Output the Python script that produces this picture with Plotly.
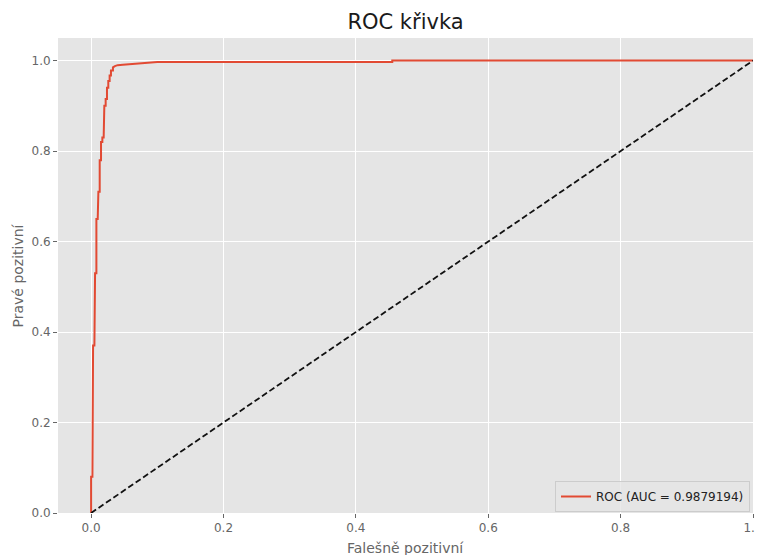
import plotly.graph_objects as go

# ROC curve points (false positive rate, true positive rate)
fpr = [0.0, 0.0, 0.002, 0.002, 0.003, 0.003, 0.005, 0.005, 0.006, 0.006, 0.008, 0.008,
       0.010, 0.010, 0.011, 0.011, 0.013, 0.013, 0.015, 0.015, 0.017, 0.017, 0.019, 0.019,
       0.020, 0.020, 0.022, 0.022, 0.024, 0.024, 0.026, 0.026, 0.028, 0.028, 0.030, 0.030,
       0.033, 0.033, 0.036, 0.040, 0.048, 0.056, 0.065, 0.077, 0.088, 0.100, 0.455, 0.455, 1.0]
tpr = [0.0, 0.08, 0.08, 0.32, 0.32, 0.37, 0.37, 0.44, 0.44, 0.53, 0.53, 0.65,
       0.65, 0.676, 0.676, 0.71, 0.71, 0.78, 0.78, 0.82, 0.82, 0.83, 0.83, 0.87,
       0.87, 0.90, 0.90, 0.915, 0.915, 0.94, 0.94, 0.955, 0.955, 0.967, 0.967, 0.978,
       0.978, 0.985, 0.988, 0.990, 0.991, 0.992, 0.994, 0.995, 0.996, 0.997, 0.997, 1.0, 1.0]
diag_x = [0.0, 1.0]
diag_y = [0.0, 1.0]
auc_label = "ROC (AUC = 0.9879194)"
tick_vals = [0.0, 0.2, 0.4, 0.6, 0.8, 1.0]
tick_text = ["0.0", "0.2", "0.4", "0.6", "0.8", "1.0"]

# the page body adds an 8px offset, so the figure is sized to fill the rest of the window
W, H = 755, 547
L, R, T, B = 50, 10, 30, 42
PW, PH = W - L - R, H - T - B

fig = go.Figure()
fig.add_trace(go.Scatter(x=fpr, y=tpr, mode="lines", name=auc_label,
                         line=dict(color="#E24A33", width=2)))
fig.add_trace(go.Scatter(x=diag_x, y=diag_y, mode="lines", showlegend=False,
                         line=dict(color="#111111", width=1.8, dash="6px,3px")))

axis_common = dict(showgrid=True, gridcolor="white", gridwidth=1, zeroline=False,
                   ticks="outside", ticklen=4, tickcolor="#666666", tickwidth=1,
                   tickfont=dict(family="DejaVu Sans", size=12, color="#666666"),
                   tickvals=tick_vals, ticktext=tick_text, showline=False,
                   automargin=False)

fig.update_layout(
    template="none",
    width=W, height=H,
    margin=dict(l=L, r=R, t=T, b=B, autoexpand=False),
    paper_bgcolor="white", plot_bgcolor="#E5E5E5",
    xaxis=dict(range=[-0.05, 1.0], **axis_common),
    yaxis=dict(range=[0.0, 1.05], **axis_common),
    title=dict(text="ROC křivka", x=(L + PW / 2) / W, xanchor="center",
               y=1 - 14 / H, yanchor="middle",
               font=dict(family="DejaVu Sans", size=21, color="#1a1a1a")),
    legend=dict(x=1 - 3 / PW, y=1 / PH, xanchor="right", yanchor="bottom",
                bgcolor="rgba(229,229,229,0.8)", bordercolor="#CCCCCC", borderwidth=1,
                font=dict(family="DejaVu Sans", size=12, color="#222222"),
                itemwidth=30),
    showlegend=True,
)

fig.add_annotation(text="Falešně pozitivní", xref="paper", yref="paper",
                   x=0.5, y=-(530 - (H - B)) / PH, xanchor="center", yanchor="top",
                   showarrow=False, font=dict(family="DejaVu Sans", size=14, color="#666666"))
fig.add_annotation(text="Pravé pozitivní", xref="paper", yref="paper",
                   x=-(L - 9) / PW, y=0.5, xanchor="center", yanchor="middle",
                   textangle=-90, showarrow=False,
                   font=dict(family="DejaVu Sans", size=14, color="#666666"))

fig.write_html("out.html")
